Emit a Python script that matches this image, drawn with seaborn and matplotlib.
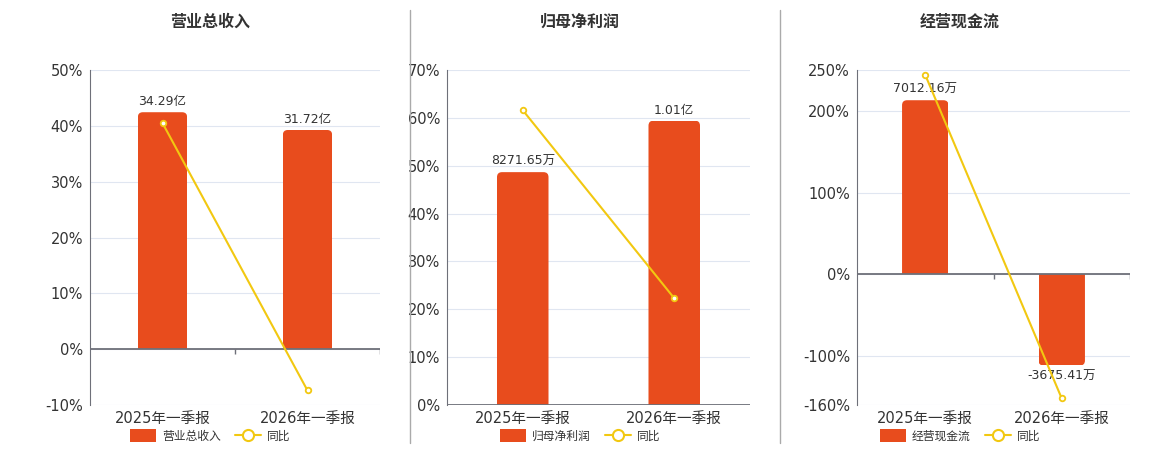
import matplotlib
matplotlib.use('Agg')
import matplotlib.pyplot as plt
import seaborn as sns
from matplotlib.lines import Line2D
from matplotlib.patches import Patch, FancyBboxPatch

# data
periods = ['2025年一季报', '2026年一季报']

titles = ['营业总收入', '归母净利润', '经营现金流']

revenue = [34.29, 31.72]            # 亿
revenue_yoy = [40.5, -7.4]          # %
revenue_labels = ['34.29亿', '31.72亿']

profit = [0.827165, 1.01]           # 亿
profit_yoy = [61.6, 22.3]
profit_labels = ['8271.65万', '1.01亿']

cashflow = [7012.16, -3675.41]      # 万
cashflow_yoy = [244.0, -152.0]
cashflow_labels = ['7012.16万', '-3675.41万']

pct_ticks_1 = [-10, 0, 10, 20, 30, 40, 50]
pct_ticks_2 = [0, 10, 20, 30, 40, 50, 60, 70]
pct_ticks_3 = [-160, -100, 0, 100, 200, 250]

###############################################################################
# style
###############################################################################
sns.set_style('white')
plt.rcParams['font.family'] = ['DejaVu Sans', 'Noto Sans CJK SC']

BAR = '#E84C1D'
LINE = '#F2C811'
GRID = '#E0E6F1'
AXIS = '#6E7079'
TXT = '#333333'

fig = plt.figure(figsize=(11.6, 4.5), dpi=100)

panels = [
    dict(rect=(90, 380), cx=210, bars=revenue, yoy=revenue_yoy, labels=revenue_labels,
         ticks=pct_ticks_1, bar_top=40.4),
    dict(rect=(447, 750), cx=580, bars=profit, yoy=profit_yoy, labels=profit_labels,
         ticks=pct_ticks_2, bar_top=1.19),
    dict(rect=(857, 1130), cx=960, bars=cashflow, yoy=cashflow_yoy, labels=cashflow_labels,
         ticks=pct_ticks_3, bar_top=8230),
]

W, H = 1160, 450
top_px, bot_px = 70, 405

for title, p in zip(titles, panels):
    x0, x1 = p['rect']
    rect = (x0 / W, 1 - bot_px / H, (x1 - x0) / W, (bot_px - top_px) / H)
    ax_bar = fig.add_axes(rect)
    ax = ax_bar.twinx()

    lo, hi = p['ticks'][0], p['ticks'][-1]
    scale = p['bar_top'] / hi

    # bars (hidden scale)
    sns.barplot(x=periods, y=p['bars'], ax=ax_bar, color=BAR, saturation=1,
                width=0.34, zorder=2, edgecolor='none', linewidth=0)
    ax_bar.set_ylim(lo * scale, hi * scale)
    ax_bar.set_xlim(-0.5, 1.5)
    ax_bar.set_yticks([t * scale for t in p['ticks']])
    ax_bar.yaxis.grid(True, color=GRID, linewidth=0.8)
    ax_bar.set_axisbelow(True)
    ax_bar.tick_params(axis='y', left=False, labelleft=False, right=False, labelright=False)
    ax_bar.tick_params(axis='x', length=0, labelsize=10.5, labelcolor=TXT, pad=4)
    ax_bar.bar_label(ax_bar.containers[0], labels=p['labels'], padding=3,
                     fontsize=9, color=TXT)
    for s in ax_bar.spines.values():
        s.set_visible(False)

    # rounded far end of each bar: rounded box clipped by the bar itself
    xdpp = 2.0 / (x1 - x0)
    ydpp = (hi - lo) * scale / (bot_px - top_px)
    r = 5 * xdpp
    ext = 12 * ydpp
    for bar in list(ax_bar.containers[0]):
        bx, by, bw, bh = bar.get_x(), bar.get_y(), bar.get_width(), bar.get_height()
        if bh >= 0:
            y_start, height = by - ext, bh + ext
        else:
            y_start, height = by + bh, -bh + ext
        rp = FancyBboxPatch((bx, y_start), bw, height,
                            boxstyle=f'round,pad=0,rounding_size={r}',
                            mutation_aspect=ydpp / xdpp,
                            facecolor=BAR, edgecolor='none', zorder=2)
        ax_bar.add_patch(rp)
        rp.set_clip_path(bar)
        bar.set_visible(False)

    # yoy line
    sns.pointplot(x=periods, y=p['yoy'], ax=ax, color=LINE, markers='o',
                  markersize=4, linewidth=1.5, markerfacecolor='white',
                  markeredgecolor=LINE, markeredgewidth=1.3)
    ax.set_ylim(lo, hi)
    ax.set_yticks(p['ticks'])
    ax.set_yticklabels([f'{t}%' for t in p['ticks']])
    ax.yaxis.set_ticks_position('left')
    ax.tick_params(axis='y', length=0, labelsize=10.5, labelcolor=TXT, pad=5)
    ax.set_xlim(-0.5, 1.5)
    for name, s in ax.spines.items():
        s.set_visible(name == 'left')
    ax.spines['left'].set_color(AXIS)
    ax.axhline(0, color=AXIS, linewidth=1.3, zorder=1)
    tick_len = (hi - lo) * 0.015
    ax.vlines([0.5, 1.5], 0, -tick_len, color=AXIS, linewidth=1)
    ax.set_ylabel('')

    # title
    fig.text(p['cx'] / W, 1 - 22 / H, title, ha='center', va='center',
             fontsize=11.5, fontweight='bold', color=TXT)

    # legend
    handles = [Patch(facecolor=BAR, edgecolor='none'),
               Line2D([0], [0], color=LINE, linewidth=1.5, marker='o', markersize=8,
                      markerfacecolor='white', markeredgecolor=LINE, markeredgewidth=1.5)]
    fig.legend(handles, [title, '同比'], loc='center', ncol=2, frameon=False,
               bbox_to_anchor=(p['cx'] / W, 1 - 436 / H), fontsize=8.5,
               handlelength=2.2, handleheight=1.2, columnspacing=1.2,
               handletextpad=0.5, labelcolor=TXT)

# separators
for xs in (410, 780):
    fig.add_artist(Line2D([xs / W, xs / W], [1 - 10 / H, 1 - 443 / H],
                          color='#AAAAAA', linewidth=1))

fig.savefig('out.png', dpi=100)
